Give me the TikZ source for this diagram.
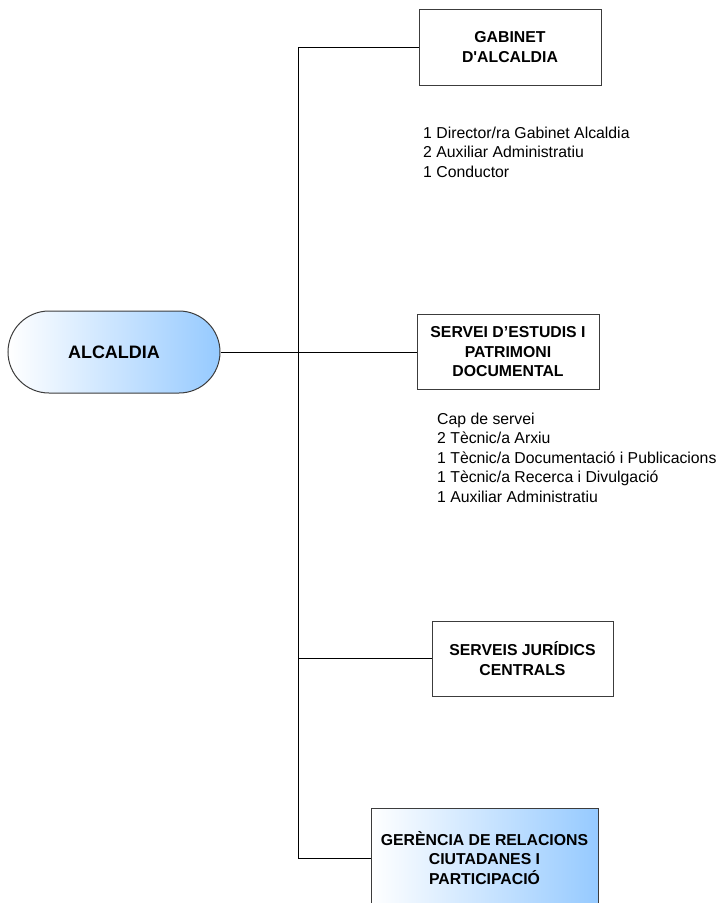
\documentclass[tikz,border=0pt]{standalone}
\usepackage{fontspec}
\setmainfont{Liberation Sans}
\definecolor{lblue}{RGB}{150,202,255}
\definecolor{edge}{RGB}{60,60,60}
\begin{document}
\begin{tikzpicture}[x=1pt,y=-1pt,
  box/.style={draw=edge, line width=1pt, rectangle, align=center, inner sep=0pt,
    font=\bfseries\fontsize{15.8}{19.5}\selectfont},
  staff/.style={align=left, anchor=north west, inner sep=0pt,
    font=\fontsize{15.8}{19.5}\selectfont},
  conn/.style={draw=black, line width=1pt},
  grad/.style={left color=white, right color=lblue}]
\useasboundingbox (0,0) rectangle (724,903);
\clip (0,0) rectangle (724,903);

\node[box, grad, rounded corners=41pt, minimum width=212pt, minimum height=82pt,
  font=\bfseries\fontsize{18}{22}\selectfont] (alc) at (114,352) {ALCALDIA};

\node[box, minimum width=182pt, minimum height=76pt] (gab) at (510,47)
  {GABINET\\D\textquotesingle ALCALDIA};
\node[box, minimum width=182pt, minimum height=75pt] (serv) at (508,352)
  {SERVEI D’ESTUDIS I\\PATRIMONI\\DOCUMENTAL};
\node[box, minimum width=181pt, minimum height=75pt] (jur) at (522.5,658.5)
  {SERVEIS JURÍDICS\\CENTRALS};
\node[box, grad, minimum width=227pt, minimum height=100pt] (ger) at (484.5,858)
  {GERÈNCIA DE RELACIONS\\CIUTADANES I\\PARTICIPACIÓ};

\node[staff] (gabstaff) at (423,126.5)
  {1 Director/ra Gabinet Alcaldia\\2 Auxiliar Administratiu\\1 Conductor};
\node[staff] (servstaff) at (437,412.5)
  {Cap de servei\\2 Tècnic/a Arxiu\\1 Tècnic/a Documentació i Publicacions\\1 Tècnic/a Recerca i Divulgació\\1 Auxiliar Administratiu};

\coordinate (ttop) at (298,47);
\coordinate (tbot) at (298,858);

\draw[conn] (alc.east) -- (serv.west);
\draw[conn] (gab.west) -- (ttop) -- (tbot) -- (ger.west);
\draw[conn] (jur.west) -- (jur.west -| ttop);
\end{tikzpicture}
\end{document}
